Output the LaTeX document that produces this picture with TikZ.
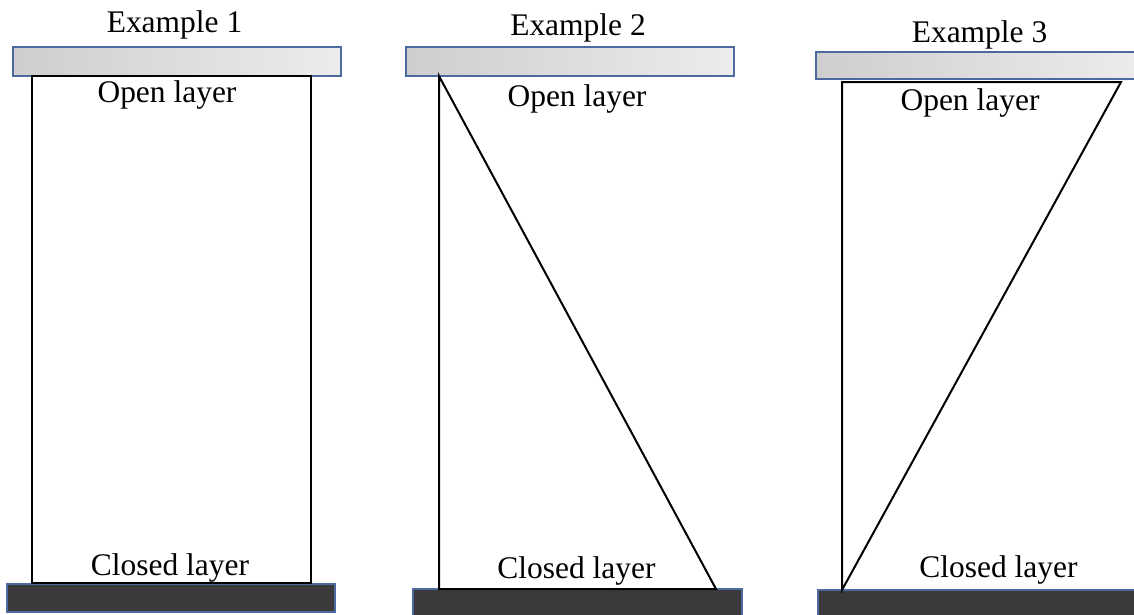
\documentclass[tikz,border=0pt]{standalone}
\usepackage{fontspec}
\setmainfont{Liberation Serif}
\definecolor{barblue}{RGB}{74,106,160}
\definecolor{bardark}{RGB}{58,58,58}
\definecolor{bargreyA}{RGB}{206,206,206}
\definecolor{bargreyB}{RGB}{236,236,236}
\begin{document}
\begin{tikzpicture}[x=0.75pt,y=-0.75pt,
  openbar/.style={draw=barblue,line width=0.8pt,left color=bargreyA,right color=bargreyB},
  closedbar/.style={draw=barblue,line width=0.8pt,fill=bardark},
  wall/.style={draw=black,line width=1.5pt,line join=miter},
  lbl/.style={anchor=base,inner sep=0pt,font=\fontsize{23.6}{28}\selectfont}]
\useasboundingbox (0,0) rectangle (1134,614);

% ---- Example 1: rectangular column ----
\fill[openbar] (13,47) rectangle (341,76);
\fill[closedbar] (7,584) rectangle (335,612);
\coordinate (a1) at (32,76);
\coordinate (b1) at (311,76);
\coordinate (c1) at (311,583);
\coordinate (d1) at (32,583);
\draw[wall] (a1) -- (b1) -- (c1) -- (d1) -- cycle;
\node[lbl] (t1) at (174.5,32) {Example 1};
\node[lbl] (o1) at (167,102) {Open layer};
\node[lbl] (k1) at (170,575) {Closed layer};

% ---- Example 2: wide at the closed layer ----
\fill[openbar] (406,47) rectangle (734,76);
\fill[closedbar] (413,589) rectangle (742,616);
\coordinate (a2) at (439,76);
\coordinate (c2) at (716,589);
\coordinate (d2) at (439,589);
\draw[wall] (a2) -- (c2) -- (d2) -- cycle;
\node[lbl] (t2) at (578,36) {Example 2};
\node[lbl] (o2) at (577,106) {Open layer};
\node[lbl] (k2) at (576.5,578) {Closed layer};

% ---- Example 3: wide at the open layer ----
\fill[openbar] (816,52) rectangle (1140,79);
\fill[closedbar] (818,590) rectangle (1140,616);
\coordinate (a3) at (842,82);
\coordinate (b3) at (1121,82);
\coordinate (d3) at (842,590);
\draw[wall] (a3) -- (b3) -- (d3) -- cycle;
\node[lbl] (t3) at (979.5,42) {Example 3};
\node[lbl] (o3) at (970,110) {Open layer};
\node[lbl] (k3) at (998.5,577) {Closed layer};
\end{tikzpicture}
\end{document}
